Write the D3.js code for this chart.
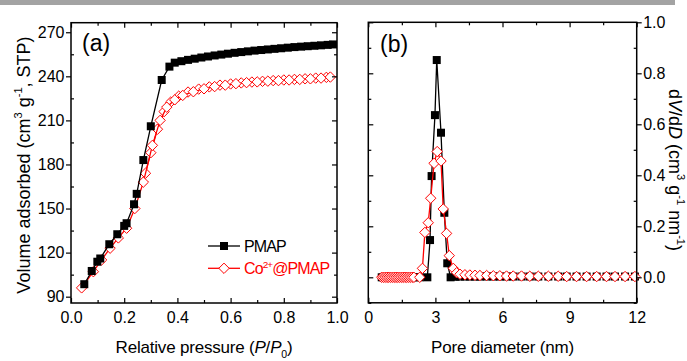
<!DOCTYPE html>
<html><head><meta charset="utf-8">
<script src="https://cdn.jsdelivr.net/npm/d3@7"></script>
<style>
html,body{margin:0;padding:0;background:#fff;}
svg{display:block;font-family:"Liberation Sans",Arial,sans-serif;}
</style></head>
<body><svg id="c" width="687" height="361"></svg>
<script>
// ---------- Panel (a): N2 isotherms ----------
const pmapP = [0.050,0.078,0.099,0.110,0.144,0.174,0.200,0.209,0.237,0.247,0.272,0.300,0.341,0.370,0.390,0.415,0.440,0.465,0.490,0.515,0.540,0.565,0.590,0.615,0.640,0.665,0.690,0.715,0.740,0.765,0.790,0.815,0.840,0.865,0.890,0.915,0.940,0.965,0.985];
const pmapV = [98.5,107.5,113.8,116.0,125.7,132.5,138.2,140.0,152.9,160.0,183.0,206.0,237.5,246.6,249.3,250.3,251.2,252.0,252.8,253.5,254.2,254.8,255.4,256.0,256.5,257.0,257.5,257.9,258.3,258.7,259.1,259.5,259.9,260.2,260.5,260.8,261.1,261.4,261.7];
const coAdsP = [0.040,0.084,0.115,0.147,0.178,0.209,0.240,0.272,0.306,0.335,0.360,0.390,0.420,0.460,0.500,0.540,0.580,0.620,0.660,0.700,0.740,0.780,0.820,0.860,0.900,0.940,0.975];
const coAdsV = [96.0,107.0,115.0,123.0,130.0,136.6,150.0,168.0,193.0,210.0,219.0,224.0,227.0,229.5,231.5,233.0,234.0,235.0,235.7,236.2,236.7,237.1,237.5,237.9,238.3,238.8,239.5];
const coDesP = [0.960,0.920,0.880,0.840,0.800,0.760,0.720,0.680,0.640,0.600,0.560,0.520,0.480,0.440,0.405,0.375,0.350,0.325,0.300,0.280];
const coDesV = [239.3,238.8,238.3,237.9,237.5,237.1,236.6,236.1,235.5,234.8,234.0,232.8,231.3,229.3,226.5,222.5,216.0,204.0,188.0,174.0];
const xTicksA = [0.0,0.2,0.4,0.6,0.8,1.0];
const xMinorA = [0.1,0.3,0.5,0.7,0.9];
const yTicksA = [90,120,150,180,210,240,270];
const yMinorA = [105,135,165,195,225,255];

// ---------- Panel (b): pore size distribution ----------
const poreDpm = [0.60,0.68,0.76,0.84,0.92,1.00,1.08,1.16,1.24,1.32,1.40,1.48,1.56,1.64,1.72,1.80,1.88,1.96,2.04,2.30,2.64,2.76,2.83,2.98,3.06,3.25,3.40,3.53,3.68,3.90,4.10,4.32,4.54,4.77,4.99,5.29,5.59,5.88,6.18,6.48,6.85,7.22,7.60,8.05,8.49,8.87,9.31,9.76,10.21,10.65,11.03,11.48,11.92];
const pmDV = [0,0,0,0,0,0,0,0,0,0,0,0,0,0,0,0,0,0,0,0.000,0.000,0.146,0.397,0.636,0.852,0.567,0.253,0.055,0.000,0.002,0.003,0.003,0.003,0.003,0.003,0.003,0.003,0.003,0.003,0.003,0.003,0.003,0.003,0.003,0.003,0.003,0.003,0.003,0.003,0.003,0.003,0.003,0.003];
const poreDco = [0.60,0.68,0.76,0.84,0.92,1.00,1.08,1.16,1.24,1.32,1.40,1.48,1.56,1.64,1.72,1.80,1.88,1.96,2.04,2.30,2.42,2.53,2.68,2.79,2.94,3.08,3.25,3.35,3.50,3.62,3.80,3.95,4.10,4.32,4.54,4.77,4.99,5.29,5.59,5.88,6.18,6.48,6.85,7.22,7.60,8.05,8.49,8.87,9.31,9.76,10.21,10.65,11.03,11.48,11.92];
const coDV = [0,0,0,0,0,0,0,0,0,0,0,0,0,0,0,0,0,0,0,0.000,0.035,0.176,0.214,0.310,0.447,0.493,0.456,0.268,0.172,0.085,0.035,0.018,0.012,0.010,0.009,0.008,0.007,0.007,0.006,0.006,0.005,0.005,0.005,0.004,0.004,0.004,0.004,0.003,0.003,0.003,0.003,0.003,0.003,0.003,0.003];
const xTicksB = [0,3,6,9,12];
const xMinorB = [1.5,4.5,7.5,10.5];
const yTicksB = [0.0,0.2,0.4,0.6,0.8,1.0];
const yMinorB = [-0.1,0.1,0.3,0.5,0.7,0.9];

const seriesNames = ["PMAP","Co2+@PMAP"];
const RED = "#ff0000";

const svg = d3.select("#c");
svg.append("rect").attr("x",0).attr("y",0).attr("width",675).attr("height",5).attr("fill","#a3a3a3");

const xA = d3.scaleLinear().domain([0,1]).range([71,337]);
const yA = d3.scaleLinear().domain([85.7,276.5]).range([303,22.7]);
const xB = d3.scaleLinear().domain([0,12]).range([368.3,636.7]);
const yB = d3.scaleLinear().domain([-0.1,1.0]).range([302.8,22.3]);

function styleAxis(g){
  g.select(".domain").remove();
  g.selectAll(".tick line").attr("stroke","#000").attr("stroke-width",1.2);
  g.selectAll(".tick text").attr("fill","#000").attr("font-size",16).attr("font-family","'Liberation Sans',Arial,sans-serif");
}
function axes(x, y, xt, xm, yt, ym, leftLabels, rightLabels, xfmt, yfmt){
  const [x0,x1] = x.range(), [y0,y1] = y.range();
  const ax = svg.append("g");
  ax.append("g").attr("transform",`translate(0,${y0})`)
    .call(d3.axisBottom(x).tickValues(xt).tickSize(-5).tickPadding(8.6).tickFormat(xfmt)).call(styleAxis);
  ax.append("g").attr("transform",`translate(0,${y0})`)
    .call(d3.axisBottom(x).tickValues(xm).tickSize(-3).tickFormat("")).call(styleAxis);
  ax.append("g").attr("transform",`translate(0,${y1})`)
    .call(d3.axisTop(x).tickValues(xt).tickSize(-5).tickFormat("")).call(styleAxis);
  ax.append("g").attr("transform",`translate(0,${y1})`)
    .call(d3.axisTop(x).tickValues(xm).tickSize(-3).tickFormat("")).call(styleAxis);
  ax.append("g").attr("transform",`translate(${x0},0)`)
    .call(leftLabels ? d3.axisLeft(y).tickValues(yt).tickSize(5).tickPadding(1.5).tickFormat(yfmt)
                     : d3.axisLeft(y).tickValues(yt).tickSize(-5).tickFormat("")).call(styleAxis);
  ax.append("g").attr("transform",`translate(${x0},0)`)
    .call(d3.axisLeft(y).tickValues(ym).tickSize(-3).tickFormat("")).call(styleAxis);
  ax.append("g").attr("transform",`translate(${x1},0)`)
    .call(rightLabels ? d3.axisRight(y).tickValues(yt).tickSize(5).tickPadding(1.5).tickFormat(yfmt)
                      : d3.axisRight(y).tickValues(yt).tickSize(-5).tickFormat("")).call(styleAxis);
  ax.append("g").attr("transform",`translate(${x1},0)`)
    .call(d3.axisRight(y).tickValues(ym).tickSize(-3).tickFormat("")).call(styleAxis);
  svg.append("rect").attr("x",x0).attr("y",y1).attr("width",x1-x0).attr("height",y0-y1)
    .attr("fill","none").attr("stroke","#000").attr("stroke-width",1.5);
}

function diamondPath(r){ return `M0,${-r}L${r},0L0,${r}L${-r},0Z`; }

function drawSeries(g, x, y, xs, ys, kind){
  const pts = xs.map((v,i)=>[v, ys[i]]);
  const line = d3.line().x(d=>x(d[0])).y(d=>y(d[1]));
  g.append("path").attr("d", line(pts)).attr("fill","none")
    .attr("stroke", kind==="sq" ? "#000" : RED).attr("stroke-width",1.3);
  if(kind==="sq"){
    g.selectAll(null).data(pts).enter().append("rect")
      .attr("x",d=>x(d[0])-4).attr("y",d=>y(d[1])-4).attr("width",8).attr("height",8).attr("fill","#000");
  } else {
    g.selectAll(null).data(pts).enter().append("path")
      .attr("transform",d=>`translate(${x(d[0])},${y(d[1])})`)
      .attr("d",diamondPath(5.2)).attr("fill","#fff").attr("stroke",RED).attr("stroke-width",1);
  }
}

function rich(sel, parts, fs){
  let shift = 0;
  parts.forEach(p=>{
    const ts = sel.append("tspan").text(p.t);
    const target = p.sup ? -0.42*fs : (p.sub ? 0.32*fs : 0);
    if(target - shift !== 0) ts.attr("dy", target - shift);
    shift = target;
    if(p.sup || p.sub) ts.attr("font-size", fs*0.62);
    if(p.it) ts.attr("font-style","italic");
  });
}

// ---- Panel (a) ----
const gA = svg.append("g");
drawSeries(gA, xA, yA, coDesP, coDesV, "di");
drawSeries(gA, xA, yA, coAdsP, coAdsV, "di");
drawSeries(gA, xA, yA, pmapP, pmapV, "sq");
axes(xA, yA, xTicksA, xMinorA, yTicksA, yMinorA, true, false, d3.format(".1f"), d3.format("d"));

// ---- Panel (b) ----
const gB = svg.append("g");
drawSeries(gB, xB, yB, poreDpm, pmDV, "sq");
drawSeries(gB, xB, yB, poreDco, coDV, "di");
axes(xB, yB, xTicksB, xMinorB, yTicksB, yMinorB, false, true, d3.format("d"), d3.format(".1f"));

// panel labels
svg.append("text").attr("x",82).attr("y",50.5).attr("font-size",23).text("(a)");
svg.append("text").attr("x",380).attr("y",51.5).attr("font-size",23).text("(b)");

// legend
const leg = svg.append("g");
const legY = [246, 268.3];
leg.append("line").attr("x1",208).attr("x2",240).attr("y1",legY[0]).attr("y2",legY[0]).attr("stroke","#000").attr("stroke-width",1.3);
leg.append("rect").attr("x",224-4).attr("y",legY[0]-4).attr("width",8).attr("height",8).attr("fill","#000");
leg.append("line").attr("x1",208).attr("x2",240).attr("y1",legY[1]).attr("y2",legY[1]).attr("stroke",RED).attr("stroke-width",1.3);
leg.append("path").attr("transform",`translate(224,${legY[1]})`).attr("d",diamondPath(5.2)).attr("fill","#fff").attr("stroke",RED);
const lfs = 16;
leg.append("text").attr("x",244).attr("y",legY[0]+6).attr("font-size",lfs).attr("letter-spacing",-0.9).text(seriesNames[0]);
const l2 = leg.append("text").attr("x",244).attr("y",legY[1]+6).attr("font-size",lfs).attr("fill",RED).attr("letter-spacing",-0.9);
rich(l2, [{t:"Co"},{t:"2+",sup:true},{t:"@PMAP"}], lfs);

// axis titles
const tfs = 17;
const xtA = svg.append("text").attr("x",(xA.range()[0]+xA.range()[1])/2).attr("y",353).attr("text-anchor","middle").attr("font-size",tfs).attr("letter-spacing",-0.2);
rich(xtA, [{t:"Relative pressure ("},{t:"P",it:true},{t:"/"},{t:"P",it:true},{t:"0",sub:true},{t:")"}], tfs);
svg.append("text").attr("x",(xB.range()[0]+xB.range()[1])/2).attr("y",353).attr("text-anchor","middle").attr("font-size",tfs).attr("letter-spacing",-0.2).text("Pore diameter (nm)");

const yfs = 18;
const ytA = svg.append("text").attr("transform","translate(30,165) rotate(-90)").attr("text-anchor","middle").attr("font-size",yfs);
rich(ytA, [{t:"Volume adsorbed (cm"},{t:"3",sup:true},{t:" g"},{t:"-1",sup:true},{t:", STP)"}], yfs);
const ytB = svg.append("text").attr("transform","translate(669,170) rotate(90)").attr("text-anchor","middle").attr("font-size",yfs);
rich(ytB, [{t:"d"},{t:"V",it:true},{t:"/d"},{t:"D",it:true},{t:" (cm"},{t:"3",sup:true},{t:" g"},{t:"-1",sup:true},{t:" nm"},{t:"-1",sup:true},{t:")"}], yfs);
</script></body></html>
